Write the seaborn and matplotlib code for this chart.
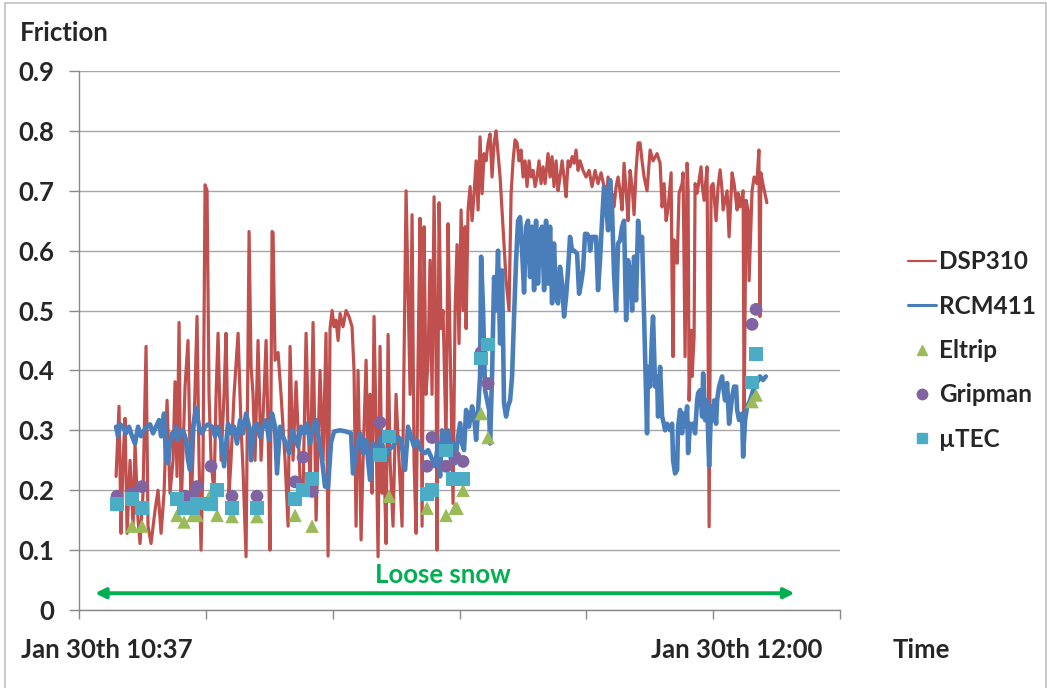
import numpy as np
import matplotlib
matplotlib.use("Agg")
from matplotlib import pyplot as plt
from matplotlib.lines import Line2D
from matplotlib.patches import Rectangle
import matplotlib.transforms as mtransforms
import seaborn as sns

# minutes after 10:37 and friction values
dsp_time = [1.19, 1.58, 1.84, 2.11, 2.37, 2.64, 3.03, 3.43, 3.69, 4.09, 4.35, 4.74, 5.14, 5.40, 5.80,
            6.33, 6.72, 7.12, 7.51, 7.91, 8.30, 8.70, 8.96, 9.22, 9.49, 9.75, 10.28, 10.67, 11.07, 11.46,
            11.86, 12.12, 12.39, 12.65, 12.92, 13.18, 13.44, 13.71, 14.10, 14.37, 14.63, 15.03, 15.42,
            15.68, 16.08, 16.34, 16.74, 17.27, 17.66, 17.92, 18.32, 18.72, 18.98, 19.24, 19.50, 19.90,
            20.30, 20.69, 20.96, 21.22, 21.48, 21.75, 21.88, 22.14, 22.54, 22.93, 23.46, 23.86, 24.12,
            24.51, 24.91, 25.44, 25.83, 26.23, 26.76, 27.15, 27.55, 28.07, 28.47, 28.86, 29.13, 29.39,
            29.66, 29.92, 30.18, 30.45, 30.71, 31.10, 31.50, 31.89, 32.29, 32.55, 32.82, 33.08, 33.48,
            33.74, 34.14, 34.40, 34.66, 34.93, 35.19, 35.45, 35.72, 35.98, 36.25, 36.51, 36.77, 37.04,
            37.30, 37.69, 38.09, 38.49, 38.88, 39.14, 39.41, 39.67, 39.94, 40.20, 40.46, 40.73, 40.99,
            41.25, 41.52, 41.78, 42.04, 42.31, 42.57, 42.83, 43.10, 43.36, 43.49, 43.76, 44.02, 44.28,
            44.68, 44.94, 45.21, 45.60, 45.87, 46.13, 46.39, 46.66, 46.92, 47.18, 47.32, 47.58, 47.85,
            48.11, 48.37, 48.64, 48.90, 49.16, 49.43, 49.69, 49.95, 50.22, 50.48, 50.74, 51.01, 51.27,
            51.53, 51.80, 52.06, 52.32, 52.59, 52.98, 53.25, 53.51, 53.77, 54.04, 54.30, 54.56, 54.83,
            55.09, 55.35, 55.62, 55.88, 56.14, 56.41, 56.67, 56.93, 57.20, 57.46, 57.73, 58.12, 58.39,
            58.65, 58.91, 59.18, 59.44, 59.70, 59.97, 60.23, 60.50, 60.76, 61.02, 61.29, 61.55, 61.81,
            62.08, 62.34, 62.73, 63.13, 63.53, 63.92, 64.32, 64.71, 65.11, 65.50, 65.77, 66.03, 66.30,
            66.56, 66.82, 67.09, 67.35, 67.61, 67.88, 68.14, 68.41, 68.67, 68.93, 69.20, 69.46, 69.72,
            69.99, 70.25, 70.51, 70.78, 71.17, 71.57, 71.96, 72.49, 72.89, 73.15, 73.42, 73.68, 73.94,
            74.34, 74.47, 74.60, 74.73, 74.99, 75.13, 75.39, 75.79, 75.92, 76.18, 76.45, 76.58, 76.71,
            76.98, 77.11, 77.37, 77.50, 77.77, 78.03, 78.29, 78.43, 78.69, 79.08, 79.35, 79.61, 79.87,
            80.27, 80.53, 80.80, 81.06, 81.19, 81.72, 81.98, 82.38, 82.64, 83.04, 83.17, 83.43, 83.83,
            83.96, 84.22, 84.49, 84.62, 85.01, 85.28, 85.64, 85.91, 86.04, 86.17, 86.43, 86.70, 86.96]
dsp_friction = [0.223, 0.34, 0.128, 0.25, 0.32, 0.128, 0.25, 0.14, 0.278, 0.15, 0.111, 0.195, 0.44, 0.14, 0.111,
                0.167, 0.20, 0.128, 0.195, 0.35, 0.195, 0.25, 0.381, 0.223, 0.48, 0.161, 0.373, 0.45, 0.167, 0.306,
                0.49, 0.25, 0.10, 0.25, 0.71, 0.70, 0.36, 0.25, 0.195, 0.36, 0.462, 0.25, 0.36,
                0.462, 0.195, 0.25, 0.36, 0.462, 0.306, 0.234, 0.089, 0.632, 0.406, 0.36, 0.25, 0.45,
                0.25, 0.36, 0.45, 0.306, 0.10, 0.632, 0.63, 0.417, 0.43, 0.36, 0.25, 0.14, 0.44,
                0.25, 0.381, 0.217, 0.195, 0.462, 0.195, 0.48, 0.15, 0.40, 0.25, 0.462, 0.09, 0.47,
                0.50, 0.473, 0.484, 0.45, 0.495, 0.473, 0.50, 0.49, 0.473, 0.40, 0.14, 0.40, 0.117,
                0.25, 0.417, 0.25, 0.36, 0.195, 0.49, 0.306, 0.089, 0.44, 0.195, 0.25, 0.111, 0.46,
                0.25, 0.14, 0.36, 0.25, 0.14, 0.417, 0.70, 0.53, 0.36, 0.66, 0.25, 0.128, 0.417,
                0.654, 0.14, 0.64, 0.36, 0.417, 0.584, 0.36, 0.69, 0.417, 0.10, 0.68, 0.47, 0.50,
                0.28, 0.645, 0.445, 0.178, 0.50, 0.61, 0.445, 0.668, 0.50, 0.64, 0.47, 0.668, 0.707,
                0.65, 0.695, 0.75, 0.668, 0.79, 0.695, 0.762, 0.75, 0.78, 0.795, 0.723, 0.78, 0.80,
                0.762, 0.723, 0.668, 0.61, 0.55, 0.50, 0.695, 0.75, 0.785, 0.78, 0.75, 0.768, 0.723,
                0.75, 0.707, 0.75, 0.723, 0.734, 0.707, 0.723, 0.75, 0.712, 0.74, 0.712, 0.762, 0.723,
                0.757, 0.707, 0.75, 0.70, 0.723, 0.75, 0.723, 0.69, 0.75, 0.74, 0.757, 0.746, 0.768,
                0.734, 0.75, 0.734, 0.723, 0.734, 0.707, 0.734, 0.712, 0.73, 0.707, 0.673, 0.723, 0.673,
                0.695, 0.673, 0.707, 0.723, 0.70, 0.668, 0.746, 0.70, 0.65, 0.734, 0.707, 0.66, 0.734,
                0.78, 0.78, 0.75, 0.723, 0.70, 0.768, 0.75, 0.762, 0.746, 0.673, 0.712, 0.65, 0.67,
                0.73, 0.54, 0.423, 0.618, 0.61, 0.579, 0.696, 0.712, 0.73, 0.423, 0.746, 0.70, 0.35,
                0.467, 0.39, 0.456, 0.712, 0.696, 0.718, 0.74, 0.71, 0.684, 0.74, 0.139, 0.707, 0.712,
                0.65, 0.707, 0.735, 0.70, 0.668, 0.70, 0.623, 0.73, 0.712, 0.668, 0.696, 0.673, 0.70,
                0.328, 0.684, 0.668, 0.55, 0.70, 0.723, 0.712, 0.768, 0.49, 0.73, 0.712, 0.696, 0.68]

rcm_time = [1.19, 1.45, 1.71, 2.11, 2.50, 2.90, 3.29, 3.69, 4.09, 4.48, 4.88, 5.27, 5.67, 6.06, 6.46,
            6.85, 7.12, 7.51, 7.77, 8.04, 8.30, 8.56, 8.83, 9.09, 9.35, 9.62, 10.01, 10.41, 10.67, 10.94,
            11.33, 11.73, 12.12, 12.52, 12.92, 13.31, 13.84, 14.23, 14.63, 15.03, 15.42, 15.94, 16.34,
            16.74, 17.13, 17.53, 17.92, 18.32, 18.72, 18.98, 19.37, 19.76, 20.16, 20.55, 20.96, 21.35,
            21.75, 22.14, 22.40, 22.80, 23.19, 23.59, 23.99, 24.38, 24.78, 25.17, 25.57, 25.96, 26.36,
            26.76, 27.15, 27.55, 27.94, 28.34, 28.73, 29.13, 29.52, 29.92, 30.71, 31.50, 32.16, 32.42,
            32.82, 33.35, 33.74, 34.14, 34.66, 35.06, 35.45, 36.11, 36.64, 37.04, 37.69, 38.35, 38.75,
            39.28, 39.67, 40.07, 40.46, 40.86, 41.38, 41.91, 42.31, 42.70, 43.23, 43.63, 43.89, 44.15,
            44.42, 44.68, 44.94, 45.34, 45.60, 45.87, 46.26, 46.53, 46.79, 47.05, 47.32, 47.71, 48.11,
            48.37, 48.64, 48.90, 49.16, 49.30, 49.56, 49.82, 50.09, 50.35, 50.48, 50.74, 51.01, 51.27,
            51.53, 51.80, 52.06, 52.32, 52.59, 52.85, 53.12, 53.38, 53.64, 53.91, 54.17, 54.43, 54.70,
            54.96, 55.22, 55.49, 55.75, 56.01, 56.28, 56.54, 56.80, 57.07, 57.33, 57.60, 57.86, 58.12,
            58.39, 58.65, 58.91, 59.18, 59.44, 59.70, 59.97, 60.23, 60.50, 60.76, 61.02, 61.29, 61.55,
            61.95, 62.21, 62.47, 62.73, 63.00, 63.26, 63.53, 63.66, 63.92, 64.18, 64.45, 64.71, 64.97,
            65.24, 65.50, 65.77, 66.03, 66.30, 66.56, 66.82, 67.09, 67.35, 67.61, 67.88, 68.14, 68.41,
            68.67, 68.93, 69.20, 69.46, 69.72, 69.99, 70.25, 70.51, 70.78, 71.17, 71.30, 71.57, 71.83,
            71.96, 72.23, 72.49, 72.62, 72.89, 73.15, 73.28, 73.55, 73.81, 74.21, 74.47, 74.60, 74.86,
            75.13, 75.26, 75.52, 75.79, 75.92, 76.18, 76.45, 76.58, 76.85, 77.11, 77.24, 77.50, 77.77,
            77.90, 78.16, 78.43, 78.56, 78.82, 79.08, 79.22, 79.35, 79.61, 79.87, 80.01, 80.27, 80.40,
            80.66, 81.06, 81.19, 81.45, 81.72, 81.98, 82.38, 82.64, 82.91, 83.04, 83.30, 83.70, 83.83,
            84.09, 84.36, 84.75, 85.15, 85.64, 86.04, 86.43, 86.83]
rcm_friction = [0.306, 0.29, 0.31, 0.306, 0.295, 0.306, 0.29, 0.278, 0.306, 0.29, 0.30, 0.306, 0.31, 0.295, 0.306,
                0.317, 0.29, 0.328, 0.25, 0.245, 0.278, 0.295, 0.29, 0.306, 0.284, 0.295, 0.30, 0.284, 0.25, 0.234,
                0.306, 0.337, 0.306, 0.295, 0.306, 0.31, 0.306, 0.29, 0.306, 0.284, 0.24, 0.311, 0.295,
                0.306, 0.278, 0.317, 0.295, 0.328, 0.306, 0.25, 0.306, 0.311, 0.289, 0.306, 0.317, 0.284,
                0.328, 0.306, 0.228, 0.306, 0.289, 0.278, 0.262, 0.30, 0.289, 0.273, 0.306, 0.295, 0.311,
                0.278, 0.306, 0.317, 0.284, 0.25, 0.206, 0.206, 0.28, 0.298, 0.30, 0.298, 0.295, 0.228,
                0.267, 0.295, 0.262, 0.284, 0.217, 0.278, 0.262, 0.289, 0.25, 0.267, 0.273, 0.289, 0.284,
                0.234, 0.306, 0.289, 0.273, 0.284, 0.267, 0.262, 0.267, 0.256, 0.24, 0.278, 0.223, 0.30,
                0.278, 0.278, 0.30, 0.25, 0.278, 0.245, 0.289, 0.312, 0.278, 0.267, 0.334, 0.306, 0.34,
                0.323, 0.284, 0.334, 0.39, 0.59, 0.50, 0.367, 0.35, 0.334, 0.278, 0.39, 0.556, 0.50,
                0.60, 0.445, 0.567, 0.345, 0.323, 0.34, 0.35, 0.39, 0.49, 0.584, 0.65, 0.656, 0.60,
                0.53, 0.64, 0.65, 0.556, 0.64, 0.534, 0.65, 0.545, 0.63, 0.64, 0.534, 0.65, 0.545,
                0.64, 0.512, 0.612, 0.523, 0.512, 0.573, 0.545, 0.49, 0.523, 0.568, 0.623, 0.60, 0.60,
                0.595, 0.528, 0.545, 0.568, 0.628, 0.628, 0.623, 0.60, 0.623, 0.623, 0.623, 0.534, 0.584,
                0.65, 0.707, 0.68, 0.634, 0.718, 0.668, 0.56, 0.50, 0.612, 0.617, 0.64, 0.65, 0.484,
                0.584, 0.567, 0.50, 0.59, 0.517, 0.65, 0.60, 0.623, 0.49, 0.295, 0.406, 0.373, 0.462,
                0.49, 0.373, 0.39, 0.323, 0.406, 0.323, 0.317, 0.30, 0.311, 0.30, 0.311, 0.25, 0.228,
                0.234, 0.306, 0.334, 0.295, 0.328, 0.306, 0.34, 0.262, 0.311, 0.306, 0.311, 0.295, 0.35,
                0.362, 0.367, 0.323, 0.395, 0.317, 0.35, 0.295, 0.24, 0.34, 0.317, 0.35, 0.311, 0.35,
                0.373, 0.39, 0.373, 0.35, 0.379, 0.311, 0.356, 0.373, 0.373, 0.334, 0.317, 0.328, 0.256,
                0.317, 0.34, 0.35, 0.367, 0.379, 0.39, 0.384, 0.39]

eltrip_time = [3.29, 4.61, 9.22, 10.15, 11.33, 11.86, 13.71, 14.50, 16.47, 19.76, 24.78, 27.02,
               37.17, 42.17, 44.68, 45.87, 46.13, 46.92, 49.30, 50.22, 85.01, 85.54]
eltrip_friction = [0.14, 0.14, 0.158, 0.147, 0.158, 0.158, 0.195, 0.158, 0.156, 0.156, 0.158, 0.14,
                   0.19, 0.17, 0.158, 0.17, 0.17, 0.20, 0.328, 0.288, 0.348, 0.359]

gripman_time = [1.32, 3.29, 4.61, 10.28, 11.33, 11.86, 13.71, 14.50, 16.47, 19.76, 24.78, 25.83, 27.02,
                35.98, 42.17, 42.83, 44.68, 45.87, 46.92, 49.30, 50.22, 85.01, 85.54]
gripman_friction = [0.19, 0.195, 0.206, 0.19, 0.19, 0.206, 0.24, 0.20, 0.19, 0.19, 0.214, 0.255, 0.198,
                    0.313, 0.24, 0.288, 0.24, 0.256, 0.248, 0.43, 0.378, 0.477, 0.502]

utec_time = [1.32, 3.29, 4.61, 9.22, 10.15, 11.33, 11.86, 13.71, 14.50, 16.47, 19.76, 24.78, 25.83, 27.02,
             35.98, 37.17, 42.17, 42.83, 44.68, 45.60, 46.92, 49.30, 50.22, 85.01, 85.54]
utec_friction = [0.177, 0.185, 0.17, 0.185, 0.17, 0.17, 0.178, 0.177, 0.20, 0.17, 0.17, 0.185, 0.20, 0.219,
                 0.259, 0.29, 0.194, 0.20, 0.266, 0.219, 0.219, 0.42, 0.443, 0.38, 0.427]

y_ticks = [0, 0.1, 0.2, 0.3, 0.4, 0.5, 0.6, 0.7, 0.8, 0.9]
y_tick_labels = ["0", "0.1", "0.2", "0.3", "0.4", "0.5", "0.6", "0.7", "0.8", "0.9"]
x_labels = ["Jan 30th 10:37", "Jan 30th 12:00"]
x_label_time = [0, 83]
series_names = ["DSP310", "RCM411", "Eltrip", "Gripman", "µTEC"]

red = "#C0504D"
blue = "#4A7EBB"
green = "#9BBB59"
purple = "#8064A2"
teal = "#4BACC6"
snow_green = "#00B050"
grey = "#898989"
fs = 18.5

sns.set_style("white")
plt.rcParams["font.family"] = ["Lato", "DejaVu Sans"]
plt.rcParams["font.weight"] = "bold"

fig = plt.figure(figsize=(10.47, 6.88), dpi=100)
ax = fig.add_axes([0.0755, 0.1134, 0.7268, 0.7834])

sns.lineplot(x=dsp_time, y=dsp_friction, color=red, linewidth=2.3, estimator=None, sort=False,
             ax=ax, zorder=2, legend=False)
sns.lineplot(x=rcm_time, y=rcm_friction, color=blue, linewidth=3.3, estimator=None, sort=False,
             ax=ax, zorder=3, legend=False)
sns.scatterplot(x=eltrip_time, y=eltrip_friction, marker="^", s=95, color=green, edgecolor="none",
                ax=ax, zorder=4, legend=False)
sns.scatterplot(x=gripman_time, y=gripman_friction, marker="o", s=85, color=purple, edgecolor="none",
                ax=ax, zorder=5, legend=False)
sns.scatterplot(x=utec_time, y=utec_friction, marker="s", s=95, color=teal, edgecolor="none",
                ax=ax, zorder=6, legend=False)

ax.set_xlim(-3.69, 96.6)
ax.set_ylim(0, 0.9)
ax.set_xticks(np.linspace(-3.69, 96.6, 7))
ax.set_xticklabels([])
ax.set_yticks(y_ticks)
ax.set_yticklabels(y_tick_labels, fontsize=fs, fontweight="bold")
ax.set_xlabel("")
ax.set_ylabel("")
ax.grid(axis="y", color="#A6A6A6", linewidth=1)
ax.grid(axis="x", visible=False)
for side in ["top", "right"]:
    ax.spines[side].set_visible(False)
for side in ["left", "bottom"]:
    ax.spines[side].set_color(grey)
    ax.spines[side].set_linewidth(1)
ax.tick_params(axis="y", left=True, length=7, width=1, color=grey, pad=11, direction="out")
ax.tick_params(axis="x", bottom=True, length=6.3, width=1, color=grey, direction="out")

# time labels under the axis
trans = mtransforms.blended_transform_factory(ax.transData, ax.transAxes)
for t, lab in zip(x_label_time, x_labels):
    ax.text(t, -0.074, lab, transform=trans, ha="center", va="center", fontsize=fs, fontweight="bold")
fig.text(0.88, 0.055, "Time", ha="center", va="center", fontsize=fs, fontweight="bold")
fig.text(0.019, 0.952, "Friction", ha="left", va="center", fontsize=fs, fontweight="bold")

# loose snow span
ax.annotate("", xy=(-1.58, 0.028), xytext=(90.6, 0.028),
            arrowprops=dict(arrowstyle="<|-|>", color=snow_green, lw=2.8, mutation_scale=15,
                            shrinkA=0, shrinkB=0), annotation_clip=False)
ax.text(44.3, 0.058, "Loose snow", ha="center", va="center", color=snow_green, fontsize=fs,
        fontweight="bold")

handles = [Line2D([], [], color=red, lw=1.6),
           Line2D([], [], color=blue, lw=2.2),
           Line2D([], [], color=green, marker="^", ls="none", markersize=7.5),
           Line2D([], [], color=purple, marker="o", ls="none", markersize=7.5),
           Line2D([], [], color=teal, marker="s", ls="none", markersize=7.5)]
fig.legend(handles, series_names, loc="upper left", bbox_to_anchor=(0.846, 0.668), frameon=False,
           handlelength=1.15, handletextpad=0.15, labelspacing=0.88,
           prop={"weight": "bold", "size": 17.5})

# chart border
fig.add_artist(Rectangle((0.005, -0.05), 0.994, 1.046, transform=fig.transFigure, fill=False,
                         edgecolor="#BFBFBF", linewidth=1.2))

plt.savefig("out.png", dpi=100)
